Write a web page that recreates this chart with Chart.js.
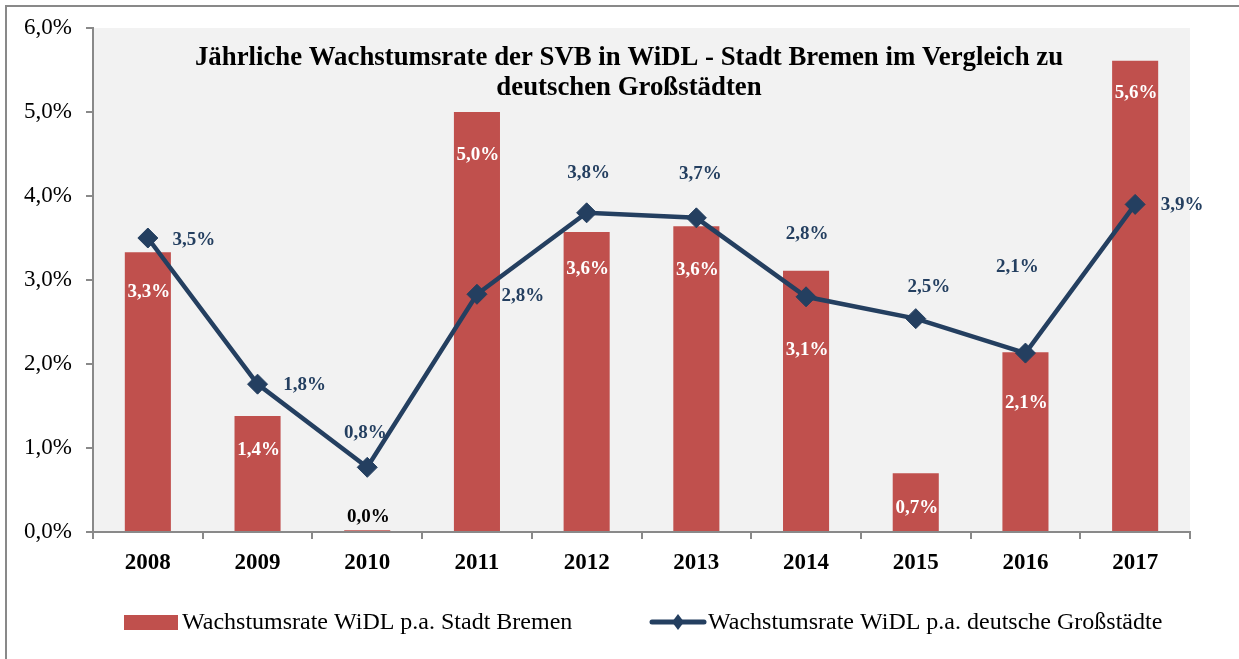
<!DOCTYPE html>
<html><head><meta charset="utf-8">
<script src="https://cdn.jsdelivr.net/npm/chart.js@4.4.1/dist/chart.umd.min.js"></script>
<style>html,body{margin:0;padding:0;background:#fff}#wrap{width:1239px;height:659px}</style>
</head><body><div id="wrap"><canvas id="c" width="1239" height="659"></canvas></div>
<script>
const categories = ['2008','2009','2010','2011','2012','2013','2014','2015','2016','2017'];
const bremenValues = [3.33, 1.38, 0.02, 5.00, 3.57, 3.64, 3.11, 0.70, 2.14, 5.61];
const grossstaedteValues = [3.50, 1.76, 0.77, 2.83, 3.80, 3.74, 2.80, 2.54, 2.13, 3.90];
const yTicks = [0, 1, 2, 3, 4, 5, 6];
const seriesNames = ['Wachstumsrate WiDL p.a. Stadt Bremen', 'Wachstumsrate WiDL p.a. deutsche Großstädte'];
const titleLines = ['Jährliche Wachstumsrate der SVB in WiDL - Stadt Bremen im Vergleich zu', 'deutschen Großstädten'];

const SERIF = '"Liberation Serif", "Times New Roman", serif';
const RED = '#c0504d', NAVY = '#243f60', GRAY = '#898989';
const fmt = v => v.toFixed(1).replace('.', ',') + '%';

// label placement (offsets relative to the mark)
const barLabelDy = [40, 34, -13, 43, 37, 44, 79, 35, 51, 32];
const lineLabelOff = [[46,2],[47,1],[-2,-34],[46,2],[2,-40],[4,-44],[1,-63],[13,-32],[-8,-86],[47,1]];

const deco = {
  id: 'deco',
  beforeDraw(chart) {
    const ctx = chart.ctx, a = chart.chartArea;
    ctx.save();
    ctx.fillStyle = '#fff';
    ctx.fillRect(0, 0, chart.width, chart.height);
    ctx.strokeStyle = GRAY; ctx.lineWidth = 2;
    ctx.strokeRect(6, 6, chart.width + 20, chart.height + 20);
    ctx.fillStyle = '#f2f2f2';
    ctx.fillRect(a.left, a.top, a.right - a.left, a.bottom - a.top);
    ctx.restore();
  },
  afterDatasetsDraw(chart) {
    const ctx = chart.ctx;
    ctx.save();
    ctx.textAlign = 'center'; ctx.textBaseline = 'middle';
    ctx.font = 'bold 19px ' + SERIF;
    const barMeta = chart.getDatasetMeta(0);
    barMeta.data.forEach((el, i) => {
      const dy = barLabelDy[i];
      ctx.fillStyle = dy < 0 ? '#000' : '#fff';
      ctx.fillText(fmt(bremenValues[i]), el.x + 1, el.y + dy);
    });
    const lineMeta = chart.getDatasetMeta(1);
    ctx.fillStyle = NAVY;
    lineMeta.data.forEach((el, i) => {
      const o = lineLabelOff[i];
      ctx.fillText(fmt(grossstaedteValues[i]), el.x + o[0], el.y + o[1]);
    });
    ctx.restore();
  },
  afterDraw(chart) {
    const ctx = chart.ctx;
    ctx.save();
    ctx.textAlign = 'center'; ctx.textBaseline = 'middle';
    ctx.fillStyle = '#000';
    ctx.font = 'bold 26.8px ' + SERIF;
    const cx = 629;
    ctx.fillText(titleLines[0], cx, 58);
    ctx.fillText(titleLines[1], cx, 88);
    // legend
    ctx.textAlign = 'left';
    ctx.font = '24px ' + SERIF;
    const ly = 622;
    ctx.fillStyle = RED;
    ctx.fillRect(124, 615, 54, 15);
    ctx.fillStyle = '#000';
    ctx.fillText(seriesNames[0], 182, ly + 1);
    ctx.strokeStyle = NAVY; ctx.lineWidth = 5; ctx.lineCap = 'round';
    ctx.beginPath(); ctx.moveTo(652, ly); ctx.lineTo(704, ly); ctx.stroke();
    ctx.fillStyle = NAVY;
    ctx.beginPath(); ctx.moveTo(678, ly - 8); ctx.lineTo(684, ly); ctx.lineTo(678, ly + 8); ctx.lineTo(672, ly); ctx.closePath(); ctx.fill();
    ctx.fillStyle = '#000';
    ctx.fillText(seriesNames[1], 708, ly + 1);
    ctx.restore();
  }
};

new Chart(document.getElementById('c'), {
  data: {
    labels: categories,
    datasets: [
      { type: 'bar', label: seriesNames[0], data: bremenValues, backgroundColor: RED,
        categoryPercentage: 1, barPercentage: 0.42, order: 1 },
      { type: 'line', label: seriesNames[1], data: grossstaedteValues, borderColor: NAVY, borderWidth: 4.5,
        pointStyle: 'rectRot', pointRadius: 10, pointHoverRadius: 10, pointBackgroundColor: NAVY,
        pointBorderColor: NAVY, pointBorderWidth: 1, tension: 0, order: 0 }
    ]
  },
  options: {
    responsive: false, animation: false, devicePixelRatio: 1,
    layout: { padding: { left: 0, top: 28, right: 49, bottom: 0 } },
    plugins: { legend: { display: false }, title: { display: false }, tooltip: { enabled: false } },
    scales: {
      x: {
        afterFit(s) { s.height = 127; },
        grid: { display: true, offset: true, drawOnChartArea: false, drawTicks: true, tickLength: 7, color: GRAY, lineWidth: 2 },
        border: { display: true, color: GRAY, width: 2 },
        ticks: { color: '#000', font: { family: SERIF, size: 23, weight: 'bold' }, padding: 10 }
      },
      y: {
        min: 0, max: 6,
        afterFit(s) { s.width = 93; },
        afterBuildTicks(s) { s.ticks = yTicks.map(v => ({ value: v })); },
        grid: { display: true, drawOnChartArea: false, drawTicks: true, tickLength: 7, color: GRAY, lineWidth: 2 },
        border: { display: true, color: GRAY, width: 2 },
        ticks: { color: '#000', font: { family: SERIF, size: 23 }, padding: 14, callback: v => fmt(v) }
      }
    }
  },
  plugins: [deco]
});
</script>
</body></html>
